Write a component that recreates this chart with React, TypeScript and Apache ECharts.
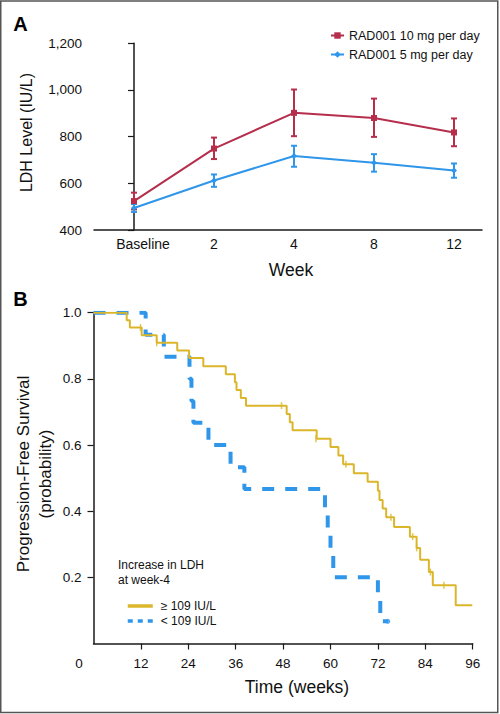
import React, { useEffect, useRef } from 'react';
import * as echarts from 'echarts';

// ---------- Panel A data ----------
const weekLabels = ['Baseline', '2', '4', '8', '12'];
const dose10Mean = [524, 749, 902, 880, 818];
const dose10Lower = [488, 704, 802, 799, 759];
const dose10Upper = [560, 796, 1002, 963, 878];
const dose5Mean = [494, 612, 717, 688, 655];
const dose5Lower = [477, 585, 671, 650, 624];
const dose5Upper = [511, 638, 761, 725, 685];
const ldhTicks = [400, 600, 800, 1000, 1200];

// ---------- Panel B data ----------
const highTimes = [0, 8.4, 9.2, 12.2, 16.0, 21.2, 24.2, 27.8, 33.5, 35.8, 36.2, 37.3, 38.6, 48.9, 49.7, 50.4, 56.5, 60.0, 62.0, 63.2, 65.9, 69.4, 72.0, 72.4, 73.2, 74.1, 76.1, 80.1, 81.8, 82.7, 84.9, 85.9, 91.7, 95.9];
const highSurv = [1.0, 0.977, 0.955, 0.932, 0.909, 0.886, 0.863, 0.838, 0.814, 0.79, 0.766, 0.742, 0.719, 0.694, 0.669, 0.645, 0.619, 0.594, 0.568, 0.542, 0.515, 0.489, 0.462, 0.434, 0.408, 0.382, 0.352, 0.323, 0.289, 0.253, 0.216, 0.176, 0.116, 0.116];
const highCensorTimes = [11.9, 16.0, 47.6, 56.3, 63.9, 75.3, 80.8, 81.8, 85.3, 88.7];
const highCensorSurv = [0.955, 0.909, 0.719, 0.619, 0.542, 0.382, 0.323, 0.289, 0.216, 0.176];
const lowTimes = [0, 13.2, 17.8, 24.3, 24.8, 25.3, 29.1, 34.7, 38.2, 58.6, 59.3, 60.0, 60.7, 72.0, 72.6, 74.5];
const lowSurv = [1.0, 0.933, 0.867, 0.8, 0.733, 0.667, 0.6, 0.533, 0.467, 0.4, 0.333, 0.267, 0.2, 0.133, 0.067, 0.067];
const lowCensorTimes = [74.5];
const lowCensorSurv = [0.067];
const timeTicks = [12, 24, 36, 48, 60, 72, 84, 96];
const survTicks = [0.2, 0.4, 0.6, 0.8, 1.0];

const FONT = '"Liberation Sans", Arial, Helvetica, sans-serif';
const RED = '#b52e4c';
const BLUE = '#2f96ea';
const GOLD = '#dbb62b';
const AXIS = '#1a1a1a';

const NAME10 = 'RAD001 10 mg per day';
const NAME5 = 'RAD001 5 mg per day';
const NAME_HI = '\u2265 109 IU/L';
const NAME_LO = '< 109 IU/L';

export default function App() {
  const ref = useRef<HTMLDivElement>(null);

  useEffect(() => {
    const chart = echarts.init(ref.current as HTMLDivElement, null, { renderer: 'svg' });

    const errorBar = (color: string, lower: number[], upper: number[]) => ({
      type: 'custom',
      xAxisIndex: 0,
      yAxisIndex: 0,
      z: 2,
      silent: true,
      data: lower.map((lo, i) => [i, lo, upper[i]]),
      encode: { x: 0, y: [1, 2] },
      renderItem: (params: any, api: any) => {
        const x = api.value(0);
        const a = api.coord([x, api.value(2)]);
        const b = api.coord([x, api.value(1)]);
        const w = 3;
        const style = { stroke: color, lineWidth: 2 };
        return {
          type: 'group',
          children: [
            { type: 'line', shape: { x1: a[0], y1: a[1], x2: b[0], y2: b[1] }, style },
            { type: 'line', shape: { x1: a[0] - w, y1: a[1], x2: a[0] + w, y2: a[1] }, style },
            { type: 'line', shape: { x1: b[0] - w, y1: b[1], x2: b[0] + w, y2: b[1] }, style },
          ],
        };
      },
    });

    const axisLineStyle = { color: AXIS, width: 1.5 };
    const labelStyle = { color: '#111', fontSize: 13.5, fontFamily: FONT };

    const option: any = {
      animation: false,
      backgroundColor: '#fff',
      textStyle: { fontFamily: FONT },
      grid: [
        { left: 94, top: 43.3, width: 388, height: 186.7 },
        { left: 93.5, top: 312.7, width: 379.2, height: 330.8 },
      ],
      xAxis: [
        {
          gridIndex: 0,
          type: 'value',
          min: -0.5,
          max: 4.35,
          splitLine: { show: false },
          axisLine: { lineStyle: axisLineStyle },
          axisTick: { show: false },
          axisLabel: {
            customValues: [0, 1, 2, 3, 4],
            formatter: (v: number) => {
              const i = Math.round(v);
              return i === 0 ? `{b|${weekLabels[0]}}` : weekLabels[i];
            },
            margin: 7,
            ...labelStyle,
            fontSize: 14,
            rich: { b: { padding: [0, 0, 0, 18], fontSize: 14, fontFamily: FONT, color: '#111' } },
          },
        },
        {
          gridIndex: 1,
          type: 'value',
          min: 0,
          max: 96,
          interval: 12,
          splitLine: { show: false },
          axisLine: { lineStyle: axisLineStyle },
          axisTick: { customValues: timeTicks, length: 6, lineStyle: { color: AXIS, width: 1.2 } },
          axisLabel: {
            margin: 13,
            ...labelStyle,
            formatter: (v: number) => (v === 0 ? '{z|0}' : String(v)),
            rich: { z: { padding: [0, 29, 0, 0], fontSize: 13.5, fontFamily: FONT, color: '#111' } },
          },
        },
      ],
      yAxis: [
        {
          gridIndex: 0,
          type: 'value',
          min: 400,
          max: 1200,
          interval: 200,
          splitLine: { show: false },
          axisLine: { show: true, lineStyle: axisLineStyle },
          axisTick: { show: true, customValues: ldhTicks, length: 6, lineStyle: { color: AXIS, width: 1.2 } },
          axisLabel: {
            margin: 12,
            ...labelStyle,
            formatter: (v: number) => v.toLocaleString('en-US'),
          },
        },
        {
          gridIndex: 1,
          type: 'value',
          min: 0,
          max: 1,
          interval: 0.2,
          splitLine: { show: false },
          axisLine: { show: true, lineStyle: axisLineStyle },
          axisTick: { show: true, customValues: survTicks, length: 6, lineStyle: { color: AXIS, width: 1.2 } },
          axisLabel: {
            customValues: survTicks,
            margin: 12,
            ...labelStyle,
            formatter: (v: number) => v.toFixed(1),
          },
        },
      ],
      legend: [
        {
          left: 325,
          top: 24,
          orient: 'vertical',
          itemWidth: 13,
          itemHeight: 8,
          itemGap: 6,
          selectedMode: false,
          data: [NAME10, NAME5],
          textStyle: { fontSize: 12.5, fontFamily: FONT, color: '#111' },
        },
        {
          left: 121,
          top: 595,
          orient: 'vertical',
          itemWidth: 25,
          itemHeight: 10,
          itemGap: 3,
          selectedMode: false,
          data: [
            { name: NAME_HI, itemStyle: { opacity: 0 }, lineStyle: { color: GOLD, width: 3.5, type: 'solid' } },
            { name: NAME_LO, itemStyle: { opacity: 0 }, lineStyle: { color: BLUE, width: 3.5, type: [5, 5] } },
          ],
          textStyle: { fontSize: 12, fontFamily: FONT, color: '#111', padding: [0, 0, 0, 3] },
        },
      ],
      series: [
        errorBar(RED, dose10Lower, dose10Upper),
        errorBar(BLUE, dose5Lower, dose5Upper),
        {
          name: NAME10,
          type: 'line',
          xAxisIndex: 0,
          yAxisIndex: 0,
          z: 3,
          data: dose10Mean.map((v, i) => [i, v]),
          symbol: 'rect',
          symbolSize: 6,
          itemStyle: { color: RED },
          lineStyle: { color: RED, width: 2 },
        },
        {
          name: NAME5,
          type: 'line',
          xAxisIndex: 0,
          yAxisIndex: 0,
          z: 3,
          data: dose5Mean.map((v, i) => [i, v]),
          symbol: 'diamond',
          symbolSize: 6,
          itemStyle: { color: BLUE },
          lineStyle: { color: BLUE, width: 2 },
        },
        {
          name: NAME_LO,
          type: 'line',
          xAxisIndex: 1,
          yAxisIndex: 1,
          step: 'end',
          symbol: 'none',
          z: 3,
          data: lowTimes.map((t, i) => [t, lowSurv[i]]),
          itemStyle: { color: BLUE },
          lineStyle: { color: BLUE, width: 4, type: [12, 11], cap: 'butt' },
        },
        {
          name: NAME_HI,
          type: 'line',
          xAxisIndex: 1,
          yAxisIndex: 1,
          step: 'end',
          symbol: 'none',
          z: 4,
          data: highTimes.map((t, i) => [t, highSurv[i]]),
          itemStyle: { color: GOLD },
          lineStyle: { color: GOLD, width: 2 },
        },
        {
          type: 'scatter',
          xAxisIndex: 1,
          yAxisIndex: 1,
          z: 5,
          symbol: 'rect',
          symbolSize: [1.5, 7],
          itemStyle: { color: GOLD },
          data: highCensorTimes.map((t, i) => [t, highCensorSurv[i]]),
        },
        {
          type: 'scatter',
          xAxisIndex: 1,
          yAxisIndex: 1,
          z: 5,
          symbol: 'circle',
          symbolSize: 5,
          itemStyle: { color: BLUE },
          data: lowCensorTimes.map((t, i) => [t, lowCensorSurv[i]]),
        },
      ],
      graphic: [
        {
          type: 'rect',
          silent: true,
          shape: { x: 0.75, y: 1, width: 497, height: 711.5 },
          style: { fill: 'none', stroke: '#555', lineWidth: 1.5 },
        },
        {
          type: 'text', x: 20.5, y: 23.7,
          style: { text: 'A', font: `bold 20px ${FONT}`, fill: '#000', align: 'center', verticalAlign: 'middle' },
        },
        {
          type: 'text', x: 20.5, y: 299,
          style: { text: 'B', font: `bold 20px ${FONT}`, fill: '#000', align: 'center', verticalAlign: 'middle' },
        },
        {
          type: 'text', x: 26, y: 132.5, rotation: Math.PI / 2,
          style: { text: 'LDH Level (IU/L)', font: `16px ${FONT}`, fill: '#111', align: 'center', verticalAlign: 'middle' },
        },
        {
          type: 'text', x: 291, y: 270,
          style: { text: 'Week', font: `17.5px ${FONT}`, fill: '#111', align: 'center', verticalAlign: 'middle' },
        },
        {
          type: 'text', x: 34, y: 474, rotation: Math.PI / 2,
          style: {
            text: 'Progression-Free Survival\n(probability)',
            font: `17px ${FONT}`, lineHeight: 22, fill: '#111', align: 'center', verticalAlign: 'middle',
          },
        },
        {
          type: 'text', x: 297, y: 687,
          style: { text: 'Time (weeks)', font: `17.5px ${FONT}`, fill: '#111', align: 'center', verticalAlign: 'middle' },
        },
        {
          type: 'text', x: 118, y: 557,
          style: {
            text: 'Increase in LDH\nat week-4',
            font: `12px ${FONT}`, lineHeight: 15, fill: '#111', align: 'left', verticalAlign: 'top',
          },
        },
      ],
    };

    chart.setOption(option);
    return () => chart.dispose();
  }, []);

  return (
    <div
      ref={ref}
      style={{ position: 'fixed', left: 0, top: 0, width: 500, height: 714, background: '#fff' }}
    />
  );
}
